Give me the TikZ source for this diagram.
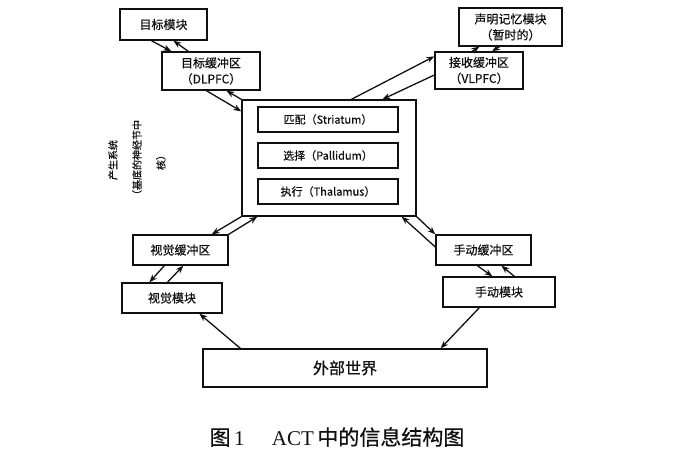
\documentclass[tikz,border=0pt]{standalone}
\usepackage{fontspec}
\setmainfont{Liberation Serif}
\newfontfamily\cjk[FakeBold=0.6]{Noto Sans CJK SC}
\usetikzlibrary{arrows.meta, positioning, calc}
\definecolor{cink}{HTML}{101010}
\tikzset{
  every picture/.style={line width=1.3pt},
  box/.style={draw=cink, fill=white, align=center, inner sep=2pt, text=cink, font=\cjk\fontsize{12}{16}\selectfont},
  arrow/.style={-{Stealth[length=8pt, width=6pt]}, draw=cink, line width=1.3pt},
  title/.style={font=\fontsize{21}{24}\selectfont, text=cink},
  note/.style={font=\cjk\fontsize{10}{24}\selectfont, align=center, rotate=90, text=cink},
}

\begin{document}
\begin{tikzpicture}[x=1pt, y=-1pt,
    mod/.style={box, minimum height=31pt},
    buf/.style={box, minimum height=30pt},
    part/.style={box, minimum width=140pt, minimum height=25pt, font=\cjk\fontsize{11}{13}\selectfont},
  ]
  \useasboundingbox (0,0) rectangle (684,458);

  % goal
  \node[mod, minimum width=87pt] (goalmod) at (163.5,24.5) {目标模块};
  \node[buf, minimum width=98pt, minimum height=38pt] (goalbuf) at (211,71) {目标缓冲区\\（DLPFC）};

  % declarative memory and retrieval
  \node[mod, minimum width=103pt, minimum height=38pt] (declmod) at (510.5,27) {声明记忆模块\\（暂时的）};
  \node[buf, minimum width=88pt, minimum height=37pt] (retrbuf) at (479,70.5) {接收缓冲区\\（VLPFC）};

  % production system
  \node[box, minimum width=174pt, minimum height=116pt] (prod) at (329,158) {};
  \node[part] (match) at (328,119.5) {匹配（Striatum）};
  \node[part] (select) at (328,155.5) {选择（Pallidum）};
  \node[part] (exec) at (328,191.5) {执行（Thalamus）};
  \node[note] (prodnote) at (137,160) {产生系统\\（基底的神经节中\\核）};

  % vision
  \node[buf, minimum width=95pt] (visbuf) at (180.5,250) {视觉缓冲区};
  \node[mod, minimum width=100pt, minimum height=30pt] (vismod) at (172,298) {视觉模块};

  % manual
  \node[buf, minimum width=95pt] (manbuf) at (483.5,250) {手动缓冲区};
  \node[mod, minimum width=112pt, minimum height=30pt] (manmod) at (499,292) {手动模块};

  % world
  \node[box, minimum width=284pt, minimum height=38pt, font=\cjk\fontsize{16}{18}\selectfont] (world) at (345,368) {外部世界};
  \node[title] (caption) at (337,437) {{\cjk 图}\,1\hspace{1.3em}ACT\,{\cjk 中的信息结构图}};

  % connectors
  \draw[arrow] ([xshift=32pt]goalmod.south west) -- ([xshift=10pt]goalbuf.north west);
  \draw[arrow] ([xshift=27pt]goalbuf.north west) -- ([xshift=54pt]goalmod.south west);
  \draw[arrow] ([xshift=45pt]goalbuf.south west) -- ([yshift=-12pt]prod.north west);
  \draw[arrow] (prod.north west) -- ([xshift=65pt]goalbuf.south west);
  \draw[arrow] ([xshift=110pt]prod.north west) -- ([yshift=-5pt]retrbuf.north west);
  \draw[arrow] ([yshift=-4.5pt]retrbuf.west) -- ([xshift=141pt]prod.north west);
  \draw[arrow] ([xshift=-7pt]retrbuf.north) -- ([xshift=-31pt]declmod.south);
  \draw[arrow] ([xshift=-11pt]declmod.south) -- ([xshift=13pt]retrbuf.north);
  \draw[arrow] (prod.south west) -- ([xshift=-17pt]visbuf.north east);
  \draw[arrow] (visbuf.north east) -- ([xshift=16pt]prod.south west);
  \draw[arrow] ([xshift=32pt]visbuf.south west) -- ([xshift=28pt]vismod.north west);
  \draw[arrow] ([xshift=46pt]vismod.north west) -- ([xshift=51pt]visbuf.south west);
  \draw[arrow] ([xshift=38pt]world.north west) -- ([xshift=78pt]vismod.south west);
  \draw[arrow] ([yshift=3pt]manbuf.west) -- ([xshift=-15pt]prod.south east);
  \draw[arrow] (prod.south east) -- (manbuf.north west);
  \draw[arrow] ([xshift=42pt]manbuf.south west) -- ([xshift=50pt]manmod.north west);
  \draw[arrow] ([xshift=72pt]manmod.north west) -- ([xshift=66pt]manbuf.south west);
  \draw[arrow] ([xshift=37pt]manmod.south west) -- ([xshift=-47pt]world.north east);
\end{tikzpicture}
\end{document}
